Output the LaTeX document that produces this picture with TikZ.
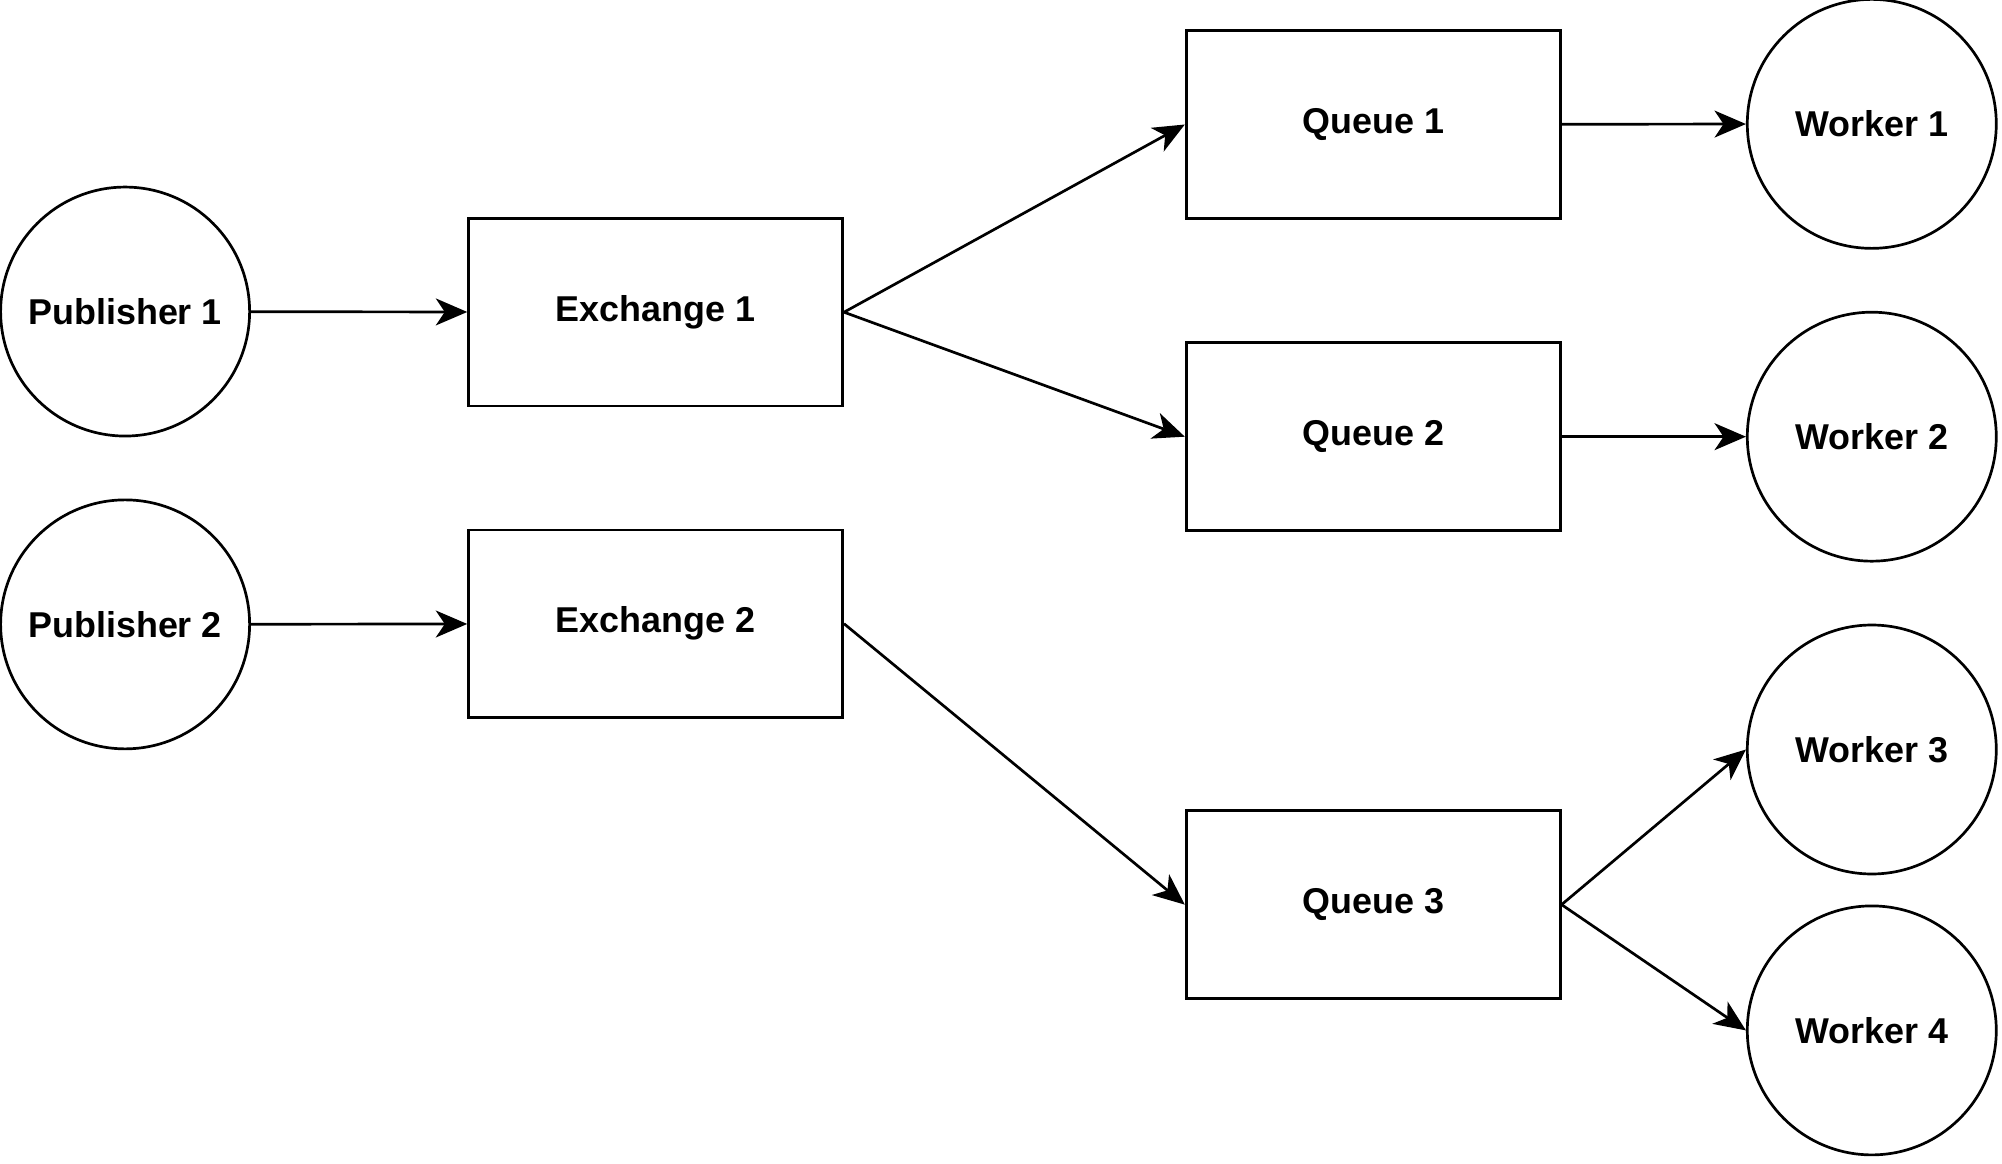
\documentclass[tikz,border=0pt]{standalone}
\usepackage{fontspec}
\setmainfont{Liberation Sans}
\usetikzlibrary{arrows.meta}
\tikzset{
  circ/.style={draw,circle,minimum size=1.95cm,inner sep=0pt,line width=0.6pt,font=\fontsize{8pt}{9pt}\selectfont\bfseries},
  box/.style={draw,rectangle,minimum width=2.93cm,minimum height=1.47cm,inner sep=0pt,line width=0.6pt,font=\fontsize{8pt}{9pt}\selectfont\bfseries},
  arr/.style={line width=0.6pt,-{Stealth[length=7pt,width=6pt,inset=2pt]}}
}
\begin{document}
\begin{tikzpicture}
\useasboundingbox (0,0) rectangle (15.68,-9.11);

% publishers and exchanges
\node[circ] (pub1) at (0.98,-2.44) {Publisher 1};
\node[circ] (pub2) at (0.98,-4.89) {Publisher 2};
\node[box] (ex1) at (5.135,-2.445) {Exchange 1};
\node[box] (ex2) at (5.135,-4.885) {Exchange 2};

% queues
\node[box] (q1) at (10.755,-0.975) {Queue 1};
\node[box] (q2) at (10.755,-3.42) {Queue 2};
\node[box] (q3) at (10.755,-7.085) {Queue 3};

% workers
\node[circ] (w1) at (14.66,-0.97) {Worker 1};
\node[circ] (w2) at (14.66,-3.42) {Worker 2};
\node[circ] (w3) at (14.66,-5.87) {Worker 3};
\node[circ] (w4) at (14.66,-8.07) {Worker 4};

\draw[arr] (pub1) -- (ex1);
\draw[arr] (pub2) -- (ex2);
\draw[arr] (ex1.east) -- (q1.west);
\draw[arr] (ex1.east) -- (q2.west);
\draw[arr] (ex2.east) -- (q3.west);
\draw[arr] (q1) -- (w1);
\draw[arr] (q2) -- (w2);
\draw[arr] (q3.east) -- (w3.west);
\draw[arr] (q3.east) -- (w4.west);
\end{tikzpicture}
\end{document}
